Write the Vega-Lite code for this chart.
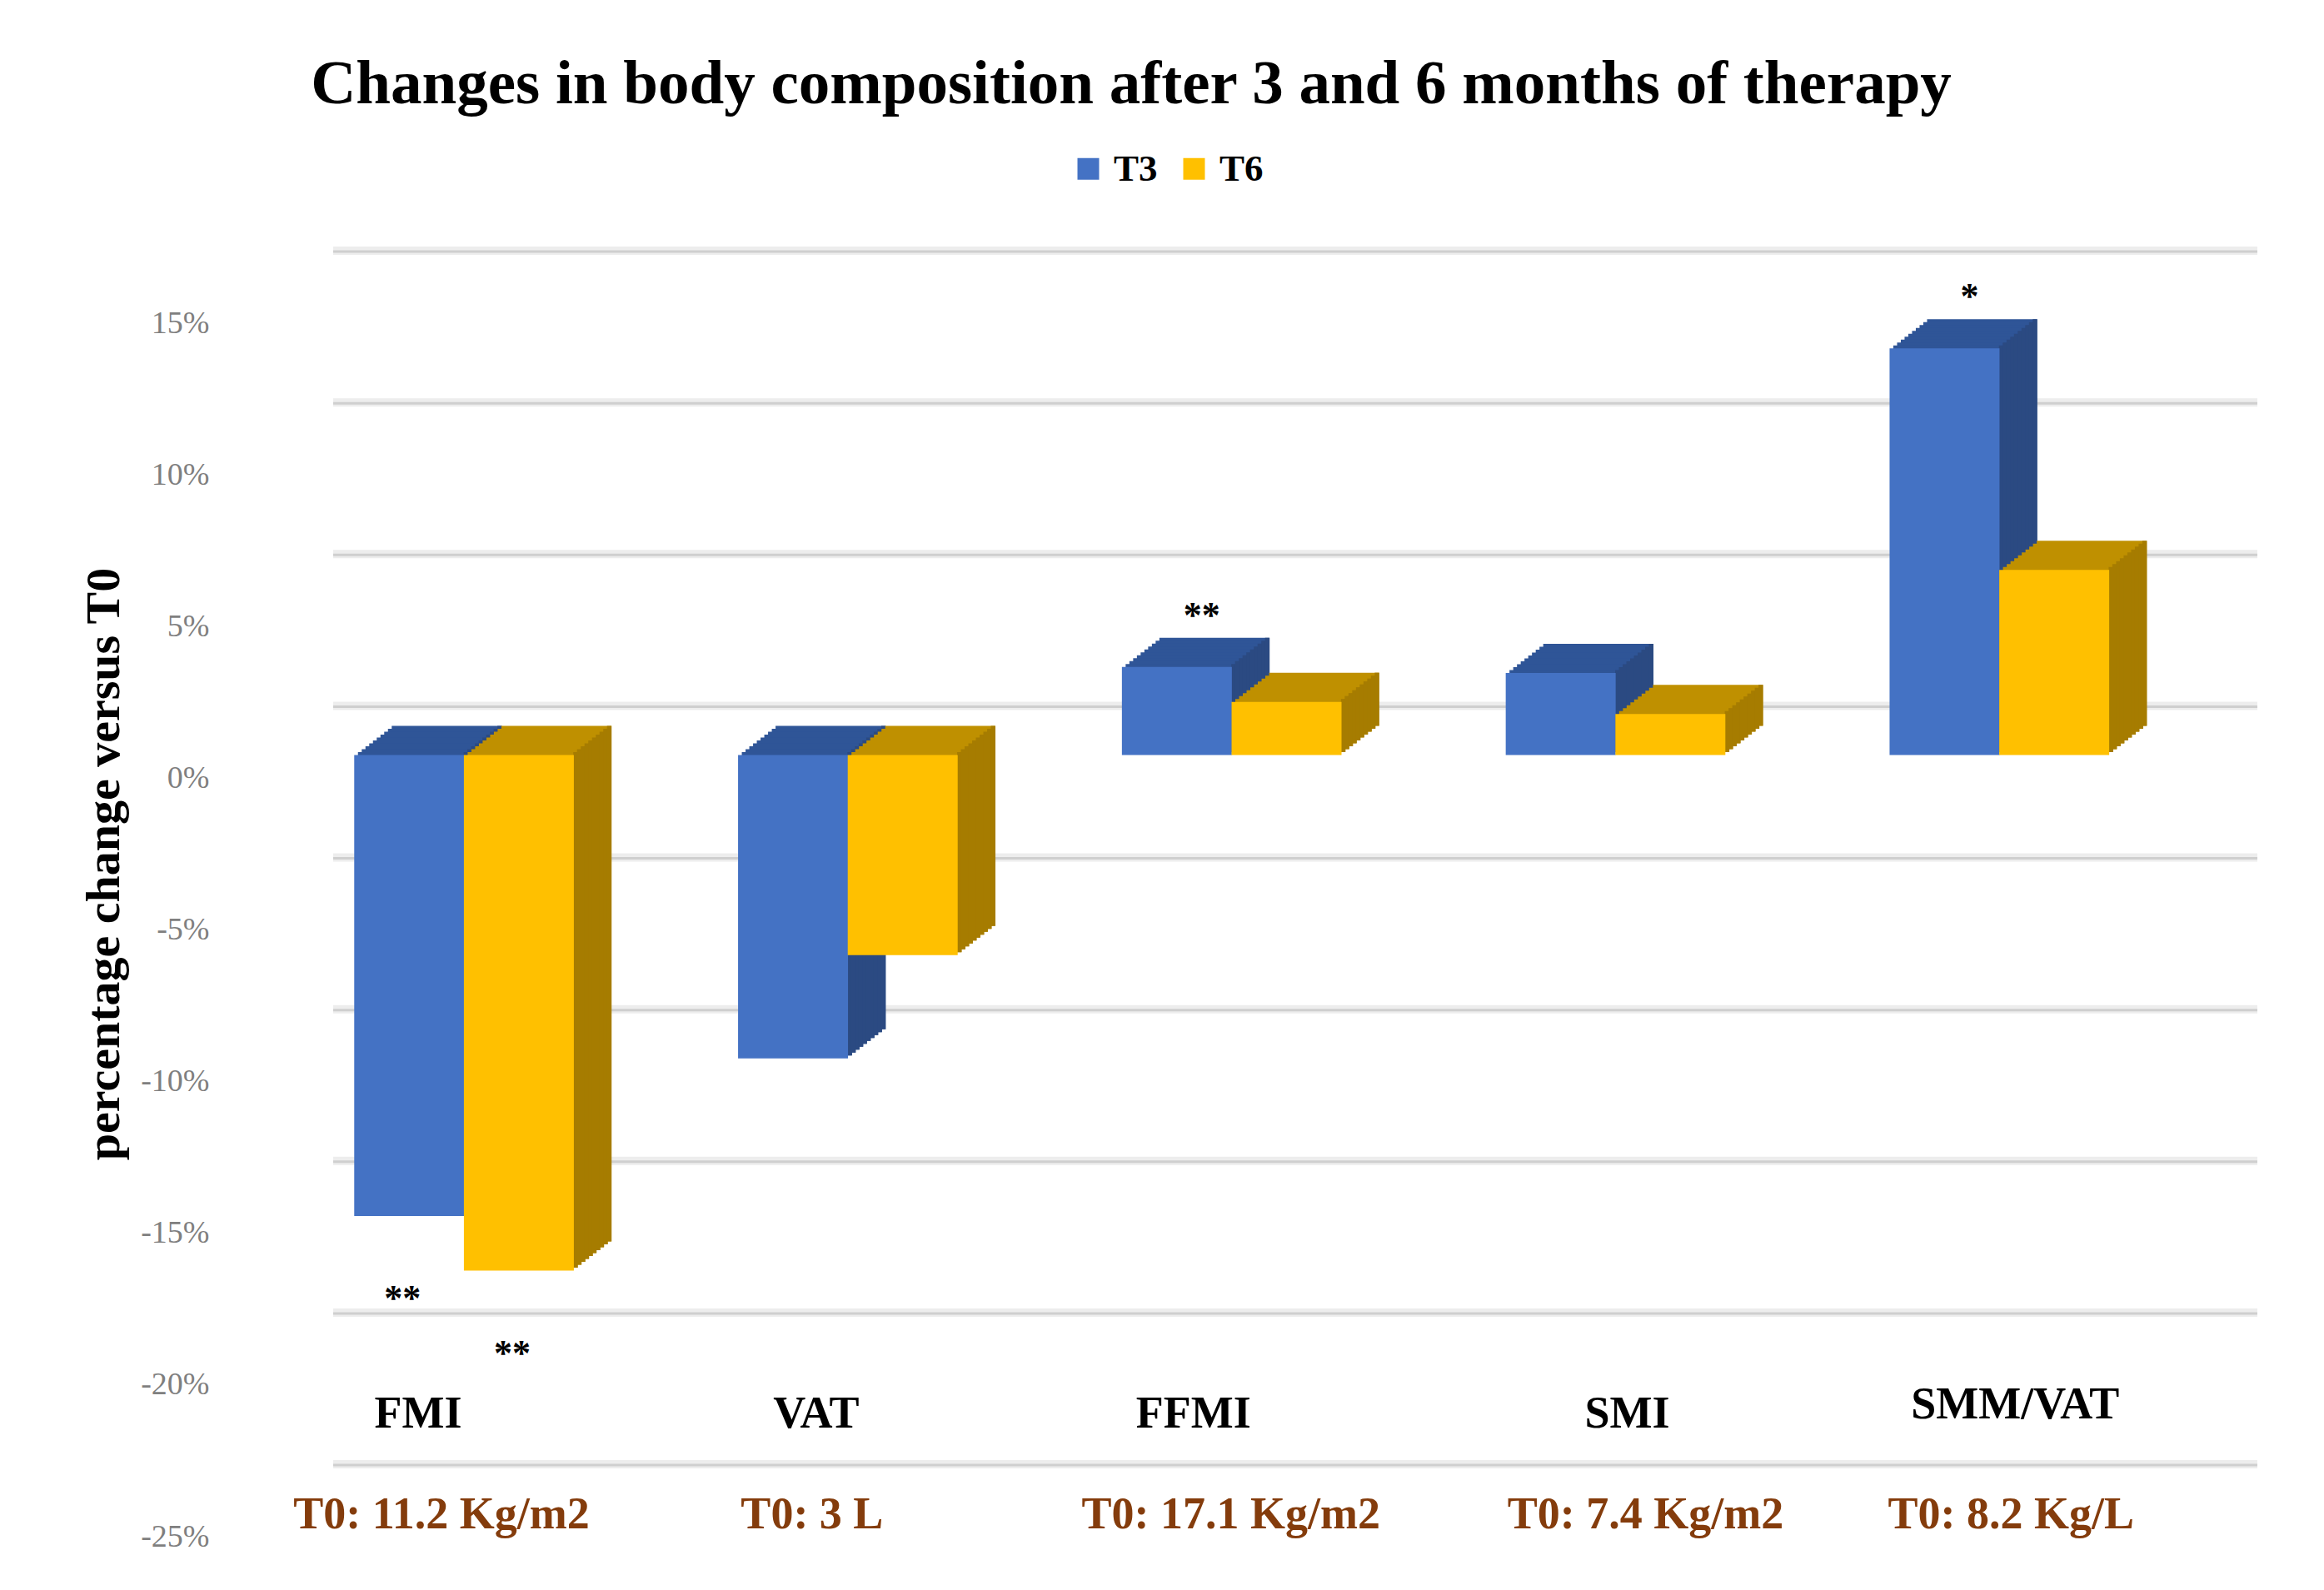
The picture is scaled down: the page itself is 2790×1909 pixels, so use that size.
{
  "$schema": "https://vega.github.io/schema/vega-lite/v6.json",
  "width": 2310,
  "height": 1457,
  "autosize": "none",
  "padding": {"left": 400, "top": 388, "right": 80, "bottom": 64},
  "background": "white",
  "config": {"view": {"stroke": null}, "font": "Liberation Serif"},
  "title": {
    "text": "Changes in body composition after 3 and 6 months of therapy",
    "font": "Liberation Serif", "fontSize": 75, "fontWeight": "bold", "color": "black",
    "anchor": "middle", "dx": -197, "offset": 40
  },
  "data": {
    "values": [
      {"measure": "FMI", "t0": "T0: 11.2 Kg/m2", "series": "T3", "change": -15.2, "sig": "**"},
      {"measure": "FMI", "t0": "T0: 11.2 Kg/m2", "series": "T6", "change": -17.0, "sig": "**"},
      {"measure": "VAT", "t0": "T0: 3 L", "series": "T3", "change": -10.0, "sig": ""},
      {"measure": "VAT", "t0": "T0: 3 L", "series": "T6", "change": -6.6, "sig": ""},
      {"measure": "FFMI", "t0": "T0: 17.1 Kg/m2", "series": "T3", "change": 2.9, "sig": "**"},
      {"measure": "FFMI", "t0": "T0: 17.1 Kg/m2", "series": "T6", "change": 1.75, "sig": ""},
      {"measure": "SMI", "t0": "T0: 7.4 Kg/m2", "series": "T3", "change": 2.7, "sig": ""},
      {"measure": "SMI", "t0": "T0: 7.4 Kg/m2", "series": "T6", "change": 1.35, "sig": ""},
      {"measure": "SMM/VAT", "t0": "T0: 8.2 Kg/L", "series": "T3", "change": 13.4, "sig": "*"},
      {"measure": "SMM/VAT", "t0": "T0: 8.2 Kg/L", "series": "T6", "change": 6.1, "sig": ""}
    ]
  },
  "resolve": {"scale": {"x": "independent"}, "axis": {"x": "independent"}},
  "layer": [
    {
      "data": {"values": [{"g": -25}, {"g": -20}, {"g": -15}, {"g": -10}, {"g": -5}, {"g": 0}, {"g": 5}, {"g": 10}, {"g": 15}]},
      "encoding": {
        "y": {"field": "g", "type": "quantitative", "scale": {"domain": [-25, 15], "nice": false}}
      },
      "layer": [
        {"mark": {"type": "rule", "color": "#ededed", "strokeWidth": 10, "yOffset": -87}},
        {"mark": {"type": "rule", "color": "#cfcfcf", "strokeWidth": 3, "yOffset": -86}}
      ]
    },
    {
      "encoding": {
        "x": {
          "field": "measure", "type": "nominal", "sort": null,
          "scale": {"domain": ["FMI", "VAT", "FFMI", "SMI", "SMM/VAT"], "paddingInner": 0.4286, "paddingOuter": 0.2208, "align": 0.125},
          "axis": {
            "orient": "bottom", "title": null, "domain": false, "ticks": false, "grid": false,
            "labelAngle": 0, "labelFont": "Liberation Serif", "labelFontWeight": "bold", "labelFontSize": 54,
            "labelColor": "black", "labelBaseline": "middle", "labelOverlap": false, "labelLimit": 0,
            "labelPadding": {"condition": {"test": "datum.value == 'SMM/VAT'", "value": -159}, "value": -148},
            "labelOffset": {"condition": [
              {"test": "datum.value == 'FMI'", "value": -55},
              {"test": "datum.value == 'VAT'", "value": -38},
              {"test": "datum.value == 'FFMI'", "value": -46},
              {"test": "datum.value == 'SMI'", "value": 14}
            ], "value": 19}
          }
        },
        "y": {"field": "change", "type": "quantitative"}
      },
      "layer": [
        {
          "transform": [{"filter": "datum.series == 'T3'"}],
          "layer": [
            {"mark": {"type": "bar", "color": "#2F5597", "width": 132, "xOffset": -20.83, "yOffset": -63, "y2Offset": -63}},
            {"mark": {"type": "bar", "color": "#2F5597", "width": 132, "xOffset": -25.33, "yOffset": -59.5, "y2Offset": -59.5}},
            {"mark": {"type": "bar", "color": "#2F5597", "width": 132, "xOffset": -29.83, "yOffset": -56, "y2Offset": -56}},
            {"mark": {"type": "bar", "color": "#2F5597", "width": 132, "xOffset": -34.33, "yOffset": -52.5, "y2Offset": -52.5}},
            {"mark": {"type": "bar", "color": "#2F5597", "width": 132, "xOffset": -38.83, "yOffset": -49, "y2Offset": -49}},
            {"mark": {"type": "bar", "color": "#2F5597", "width": 132, "xOffset": -43.33, "yOffset": -45.5, "y2Offset": -45.5}},
            {"mark": {"type": "bar", "color": "#2F5597", "width": 132, "xOffset": -47.83, "yOffset": -42, "y2Offset": -42}},
            {"mark": {"type": "bar", "color": "#2F5597", "width": 132, "xOffset": -52.33, "yOffset": -38.5, "y2Offset": -38.5}},
            {"mark": {"type": "bar", "color": "#2F5597", "width": 132, "xOffset": -56.83, "yOffset": -35, "y2Offset": -35}},
            {"mark": {"type": "bar", "color": "#2F5597", "width": 132, "xOffset": -61.33, "yOffset": -31.5, "y2Offset": -31.5}},
            {"mark": {"type": "bar", "color": "#2B4A82", "width": 5.5, "xOffset": 2.27, "yOffset": -31.5, "y2Offset": -31.5}},
            {"mark": {"type": "bar", "color": "#2B4A82", "width": 5.5, "xOffset": 6.77, "yOffset": -35, "y2Offset": -35}},
            {"mark": {"type": "bar", "color": "#2B4A82", "width": 5.5, "xOffset": 11.27, "yOffset": -38.5, "y2Offset": -38.5}},
            {"mark": {"type": "bar", "color": "#2B4A82", "width": 5.5, "xOffset": 15.77, "yOffset": -42, "y2Offset": -42}},
            {"mark": {"type": "bar", "color": "#2B4A82", "width": 5.5, "xOffset": 20.27, "yOffset": -45.5, "y2Offset": -45.5}},
            {"mark": {"type": "bar", "color": "#2B4A82", "width": 5.5, "xOffset": 24.77, "yOffset": -49, "y2Offset": -49}},
            {"mark": {"type": "bar", "color": "#2B4A82", "width": 5.5, "xOffset": 29.27, "yOffset": -52.5, "y2Offset": -52.5}},
            {"mark": {"type": "bar", "color": "#2B4A82", "width": 5.5, "xOffset": 33.77, "yOffset": -56, "y2Offset": -56}},
            {"mark": {"type": "bar", "color": "#2B4A82", "width": 5.5, "xOffset": 38.27, "yOffset": -59.5, "y2Offset": -59.5}},
            {"mark": {"type": "bar", "color": "#2B4A82", "width": 5.5, "xOffset": 42.77, "yOffset": -63, "y2Offset": -63}}
          ]
        },
        {
          "transform": [{"filter": "datum.series == 'T6'"}],
          "layer": [
            {"mark": {"type": "bar", "color": "#BF9000", "width": 132, "xOffset": 110.83, "yOffset": -63, "y2Offset": -63}},
            {"mark": {"type": "bar", "color": "#BF9000", "width": 132, "xOffset": 106.33, "yOffset": -59.5, "y2Offset": -59.5}},
            {"mark": {"type": "bar", "color": "#BF9000", "width": 132, "xOffset": 101.83, "yOffset": -56, "y2Offset": -56}},
            {"mark": {"type": "bar", "color": "#BF9000", "width": 132, "xOffset": 97.33, "yOffset": -52.5, "y2Offset": -52.5}},
            {"mark": {"type": "bar", "color": "#BF9000", "width": 132, "xOffset": 92.83, "yOffset": -49, "y2Offset": -49}},
            {"mark": {"type": "bar", "color": "#BF9000", "width": 132, "xOffset": 88.33, "yOffset": -45.5, "y2Offset": -45.5}},
            {"mark": {"type": "bar", "color": "#BF9000", "width": 132, "xOffset": 83.83, "yOffset": -42, "y2Offset": -42}},
            {"mark": {"type": "bar", "color": "#BF9000", "width": 132, "xOffset": 79.33, "yOffset": -38.5, "y2Offset": -38.5}},
            {"mark": {"type": "bar", "color": "#BF9000", "width": 132, "xOffset": 74.83, "yOffset": -35, "y2Offset": -35}},
            {"mark": {"type": "bar", "color": "#BF9000", "width": 132, "xOffset": 70.33, "yOffset": -31.5, "y2Offset": -31.5}},
            {"mark": {"type": "bar", "color": "#A67C00", "width": 5.5, "xOffset": 133.9, "yOffset": -31.5, "y2Offset": -31.5}},
            {"mark": {"type": "bar", "color": "#A67C00", "width": 5.5, "xOffset": 138.4, "yOffset": -35, "y2Offset": -35}},
            {"mark": {"type": "bar", "color": "#A67C00", "width": 5.5, "xOffset": 142.9, "yOffset": -38.5, "y2Offset": -38.5}},
            {"mark": {"type": "bar", "color": "#A67C00", "width": 5.5, "xOffset": 147.4, "yOffset": -42, "y2Offset": -42}},
            {"mark": {"type": "bar", "color": "#A67C00", "width": 5.5, "xOffset": 151.9, "yOffset": -45.5, "y2Offset": -45.5}},
            {"mark": {"type": "bar", "color": "#A67C00", "width": 5.5, "xOffset": 156.4, "yOffset": -49, "y2Offset": -49}},
            {"mark": {"type": "bar", "color": "#A67C00", "width": 5.5, "xOffset": 160.9, "yOffset": -52.5, "y2Offset": -52.5}},
            {"mark": {"type": "bar", "color": "#A67C00", "width": 5.5, "xOffset": 165.4, "yOffset": -56, "y2Offset": -56}},
            {"mark": {"type": "bar", "color": "#A67C00", "width": 5.5, "xOffset": 169.9, "yOffset": -59.5, "y2Offset": -59.5}},
            {"mark": {"type": "bar", "color": "#A67C00", "width": 5.5, "xOffset": 174.4, "yOffset": -63, "y2Offset": -63}}
          ]
        },
        {
          "transform": [{"filter": "datum.series == 'T3'"}],
          "mark": {"type": "bar", "width": 132, "xOffset": -65.83, "yOffset": -28, "y2Offset": -28},
          "encoding": {
            "color": {
              "field": "series", "type": "nominal",
              "scale": {"domain": ["T3", "T6"], "range": ["#4472C4", "#FFC000"]},
              "legend": {
                "orient": "none", "legendX": 884, "legendY": -208, "direction": "horizontal", "title": null,
                "symbolType": "square", "symbolSize": 676, "symbolStrokeWidth": 0, "symbolOpacity": 1,
                "labelFont": "Liberation Serif", "labelFontSize": 45, "labelFontWeight": "bold", "labelColor": "black",
                "labelOffset": 8, "columnPadding": 21
              }
            }
          }
        },
        {
          "transform": [{"filter": "datum.series == 'T6'"}],
          "mark": {"type": "bar", "width": 132, "xOffset": 65.83, "yOffset": -28, "y2Offset": -28},
          "encoding": {
            "color": {
              "field": "series", "type": "nominal",
              "scale": {"domain": ["T3", "T6"], "range": ["#4472C4", "#FFC000"]},
              "legend": {
                "orient": "none", "legendX": 884, "legendY": -208, "direction": "horizontal", "title": null,
                "symbolType": "square", "symbolSize": 676, "symbolStrokeWidth": 0, "symbolOpacity": 1,
                "labelFont": "Liberation Serif", "labelFontSize": 45, "labelFontWeight": "bold", "labelColor": "black",
                "labelOffset": 8, "columnPadding": 21
              }
            }
          }
        },
        {
          "transform": [{"filter": "datum.sig != ''"}],
          "mark": {
            "type": "text", "font": "Liberation Serif", "fontWeight": "bold", "fontSize": 44, "color": "black",
            "baseline": "alphabetic",
            "dx": {"expr": "(datum.series == 'T3' ? -65.83 : 65.83) + (datum.change > 0 ? 30 : -8)"},
            "dy": {"expr": "datum.change > 0 ? -76 : 85"}
          },
          "encoding": {"text": {"field": "sig"}}
        }
      ]
    },
    {
      "transform": [{"filter": "datum.series == 'T3'"}],
      "mark": {"type": "bar", "opacity": 0},
      "encoding": {
        "x": {
          "field": "t0", "type": "nominal", "sort": null,
          "scale": {"domain": ["T0: 11.2 Kg/m2", "T0: 3 L", "T0: 17.1 Kg/m2", "T0: 7.4 Kg/m2", "T0: 8.2 Kg/L"], "paddingInner": 0.4286, "paddingOuter": 0.2208, "align": 0.125},
          "axis": {
            "orient": "bottom", "title": null, "domain": false, "ticks": false, "grid": false,
            "labelAngle": 0, "labelFont": "Liberation Serif", "labelFontWeight": "bold", "labelFontSize": 54,
            "labelColor": "#843C0C", "labelBaseline": "middle", "labelOverlap": false, "labelLimit": 0, "labelPadding": -27,
            "labelOffset": {"condition": [
              {"test": "datum.value == 'T0: 11.2 Kg/m2'", "value": -27},
              {"test": "datum.value == 'T0: 3 L'", "value": -43},
              {"test": "datum.value == 'T0: 17.1 Kg/m2'", "value": -1},
              {"test": "datum.value == 'T0: 7.4 Kg/m2'", "value": 36}
            ], "value": 14}
          }
        },
        "y": {
          "field": "change", "type": "quantitative",
          "axis": {
            "orient": "left", "zindex": 2,
            "values": [-25, -20, -15, -10, -5, 0, 5, 10, 15],
            "labelExpr": "datum.value + '%'",
            "grid": false, "domain": false, "ticks": false, "labelPadding": 149,
            "labelFont": "Liberation Serif", "labelFontSize": 38, "labelColor": "#7f7f7f",
            "title": "percentage change versus T0",
            "titleFont": "Liberation Serif", "titleFontSize": 58, "titleFontWeight": "bold", "titleColor": "black",
            "titleX": -275, "titleY": 649, "titleAngle": -90, "titleAlign": "center", "titleBaseline": "middle"
          }
        }
      }
    }
  ]
}
